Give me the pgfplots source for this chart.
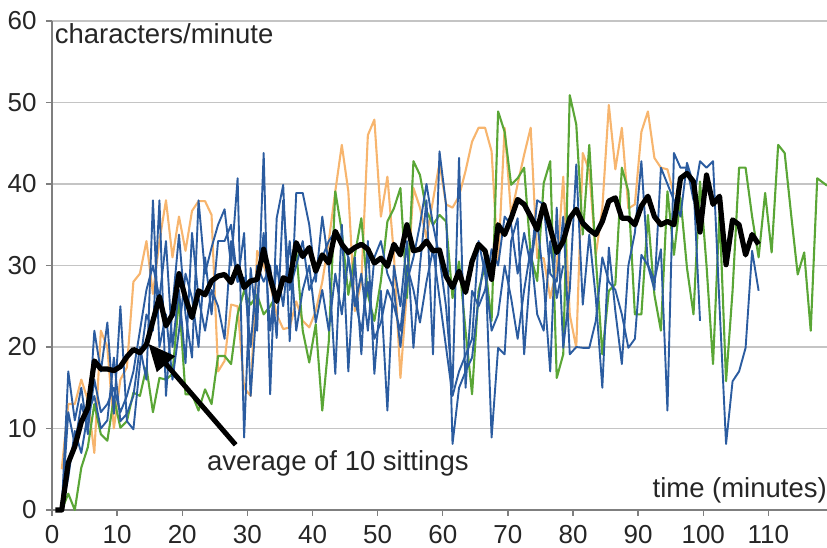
\documentclass[border=0pt]{standalone}
\usepackage{fontspec}
\setmainfont{Liberation Sans}
\usepackage{pgfplots}
\pgfplotsset{compat=1.18}
\usetikzlibrary{arrows.meta}
\definecolor{cblue}{HTML}{2B5CA0}
\definecolor{corange}{HTML}{F7B56E}
\definecolor{cgreen}{HTML}{5AA636}
\definecolor{cgrid}{HTML}{C4C4C4}
\definecolor{caxis}{HTML}{7F7F7F}
\begin{document}
\fontsize{27.5}{32}\selectfont
\begin{tikzpicture}
\path[use as bounding box] (-52pt,-38pt) rectangle (775pt,510pt);
\begin{axis}[
  scale only axis, width=775pt, height=489pt,
  at={(0,0)}, anchor=south west,
  xmin=0, xmax=119, ymin=0, ymax=60,
  axis lines=left, axis line style={caxis, line width=1.5pt, -},
  xtick={0,10,...,110}, ytick={0,10,...,60},
  tick align=outside, major tick length=6pt,
  tick style={caxis, line width=1.4pt},
  ymajorgrids, grid style={cgrid, line width=1.6pt},
  /pgf/number format/assume math mode=true,
  ticklabel style={font=\fontsize{26}{31}\selectfont, text=black!85},
  clip=false,
  every axis plot/.append style={line join=round},
]
% orange sitting
\addplot[corange, line width=2.1pt] coordinates {
(1.5,5)(2.5,13)(3.5,13)(4.5,16)(5.5,13.5)(6.5,7)(7.5,22)(8.5,20)(9.5,10)(10.5,16)
(11.5,17.5)(12.5,28)(13.5,29)(14.5,33)(15.5,26.5)(16.5,33)(17.5,38)(18.5,31)(19.5,36)(20.5,31.8)
(21.5,36.7)(22.5,37.9)(23.5,37.9)(24.5,36.2)(25.5,17)(26.5,18.3)(27.5,25.2)(28.5,25)(29.5,15)(30.5,14)
(31.5,31.8)(32.5,30)(33.5,27.7)(34.5,24)(35.5,22.2)(36.5,22.4)(37.5,25.6)(38.5,23.2)(39.5,22.4)(40.5,24.4)
(41.5,28)(42.5,33)(43.5,39.1)(44.5,44.8)(45.5,39.1)(46.5,24.4)(47.5,28)(48.5,46)(49.5,47.9)(50.5,36)
(51.5,40.9)(52.5,31.3)(53.5,16.2)(54.5,26.9)(55.5,39.5)(56.5,37.1)(57.5,33.4)(58.5,38)(59.5,42.6)(60.5,37.5)
(61.5,37.1)(62.5,38.5)(63.5,41.6)(64.5,45.2)(65.5,46.9)(66.5,46.9)(67.5,44)(68.5,30.1)(69.5,46.9)(70.5,36.2)
(71.5,40)(72.5,43.6)(73.5,46.9)(74.5,30.9)(75.5,30.9)(76.5,26)(77.5,29.7)(78.5,40.9)(79.5,24)(80.5,19.9)
(81.5,43.8)(82.5,41.6)(83.5,31.3)(84.5,37)(85.5,49.7)(86.5,41.8)(87.5,46.9)(88.5,37)(89.5,37.5)(90.5,46.4)
(91.5,48.9)(92.5,43.2)(93.5,42)(94.5,41.8)(95.5,38.7)
};
% green sitting
\addplot[cgreen, line width=2.1pt] coordinates {
(1.5,0)(2.5,2)(3.5,0)(4.5,5.2)(5.5,7.7)(6.5,13)(7.5,9.3)(8.5,8.5)(9.5,13.8)(10.5,10.1)
(11.5,10.9)(12.5,14.4)(13.5,14)(14.5,17.5)(15.5,12)(16.5,16.2)(17.5,16)(18.5,16.7)(19.5,26)(20.5,14.2)
(21.5,14.2)(22.5,12.2)(23.5,14.8)(24.5,13)(25.5,18.9)(26.5,18.9)(27.5,17.9)(28.5,24)(29.5,26.9)(30.5,25.2)
(31.5,26.4)(32.5,24)(33.5,25)(34.5,26.4)(35.5,28.1)(36.5,28.5)(37.5,32)(38.5,22)(39.5,18.1)(40.5,22.8)
(41.5,12.2)(42.5,20.7)(43.5,39.1)(44.5,34.2)(45.5,26.4)(46.5,31.3)(47.5,35.8)(48.5,26.4)(49.5,23.2)(50.5,28.1)
(51.5,35.4)(52.5,37)(53.5,39.5)(54.5,26)(55.5,42.8)(56.5,41.1)(57.5,36.7)(58.5,35)(59.5,36.2)(60.5,35.4)
(61.5,26)(62.5,30.5)(63.5,22)(64.5,14.2)(65.5,26.9)(66.5,30)(67.5,23.2)(68.5,48.9)(69.5,46.4)(70.5,39.9)
(71.5,40.7)(72.5,42)(73.5,31.3)(74.5,28.1)(75.5,40.1)(76.5,42.8)(77.5,16.2)(78.5,19.1)(79.5,50.9)(80.5,47.3)
(81.5,33.8)(82.5,44.8)(83.5,30.9)(84.5,19.1)(85.5,26.9)(86.5,27.7)(87.5,42)(88.5,39.1)(89.5,24)(90.5,24)
(91.5,36.2)(92.5,26.4)(93.5,22)(94.5,39.1)(95.5,31.3)(96.5,38.3)(97.5,29.7)(98.5,24)(99.5,40.3)(100.5,30)
(101.5,17.9)(102.5,36.7)(103.5,15.8)(104.5,26.9)(105.5,42)(106.5,42)(107.5,36)(108.5,31)(109.5,38.9)(110.5,31.6)
(111.5,44.8)(112.5,43.8)(113.5,36.2)(114.5,28.9)(115.5,31.6)(116.5,22)(117.5,40.7)(118.5,40.1)(119,39.8)
};
% blue sitting C
\addplot[cblue, line width=1.9pt] coordinates {
(1.5,0)(2.5,12)(3.5,8)(4.5,13)(5.5,10)(6.5,16)(7.5,12)(8.5,13)(9.5,15)(10.5,12)
(11.5,14)(12.5,17)(13.5,22)(14.5,27)(15.5,30)(16.5,26)(17.5,33)(18.5,20)(19.5,27)(20.5,18)
(21.5,34)(22.5,26)(23.5,22)(24.5,27)(25.5,25)(26.5,21)(27.5,33)(28.5,28)(29.5,34)(30.5,14)
(31.5,26)(32.5,34)(33.5,22)(34.5,30)(35.5,25)(36.5,33)(37.5,22)(38.5,27)(39.5,30)(40.5,23)
(41.5,27)(42.5,22)(43.5,29)(44.5,24)(45.5,31)(46.5,26)(47.5,22)(48.5,28)(49.5,21)(50.5,23)
(51.5,27)(52.5,25)(53.5,22)(54.5,30)(55.5,27)(56.5,23)(57.5,28)(58.5,32)(59.5,26)(60.5,20)
(61.5,14)(62.5,17)(63.5,19)(64.5,21)(65.5,33)(66.5,29)(67.5,22)(68.5,24)(69.5,30)(70.5,26)
(71.5,21)(72.5,27)(73.5,32)(74.5,24)(75.5,22)(76.5,33)(77.5,26)(78.5,30)
};
% blue sitting B
\addplot[cblue, line width=1.9pt] coordinates {
(1.5,0)(2.5,4)(3.5,9.7)(4.5,7)(5.5,11.8)(6.5,14)(7.5,10)(8.5,11)(9.5,18.7)(10.5,10.9)
(11.5,11.8)(12.5,14)(13.5,20)(14.5,16)(15.5,38)(16.5,20)(17.5,24)(18.5,16)(19.5,22)(20.5,29)
(21.5,26)(22.5,20)(23.5,31)(24.5,24)(25.5,33)(26.5,33)(27.5,35)(28.5,28)(29.5,28.5)(30.5,20)
(31.5,30)(32.5,28)(33.5,30)(34.5,21.1)(35.5,38)(36.5,27)(37.5,30)(38.5,33)(39.5,27)(40.5,29)
(41.5,31)(42.5,33)(43.5,34.2)(44.5,33)(45.5,31)(46.5,25)(47.5,29)(48.5,22)(49.5,31)(50.5,33)
(51.5,29)(52.5,27)(53.5,20)(54.5,28)(55.5,31)(56.5,35)(57.5,40)(58.5,35)(59.5,31)(60.5,25)
(61.5,15)(62.5,43.2)(63.5,15)(64.5,26.9)(65.5,25)(66.5,27)(67.5,32)(68.5,30)(69.5,36)(70.5,35)
(71.5,29)(72.5,34)(73.5,30)(74.5,38)(75.5,37.5)(76.5,29)(77.5,28)(78.5,36)(79.5,19.1)(80.5,20)
(81.5,19.9)(82.5,19.9)(83.5,23.2)(84.5,31)(85.5,28)(86.5,27)(87.5,24)(88.5,19.9)(89.5,21)(90.5,31.3)
(91.5,30)(92.5,27)(93.5,42)(94.5,40)(95.5,38)(96.5,36)(97.5,42.6)(98.5,40)(99.5,23.2)
};
% blue sitting A
\addplot[cblue, line width=1.9pt] coordinates {
(1.5,0)(2.5,17)(3.5,11)(4.5,15)(5.5,9.3)(6.5,22)(7.5,17)(8.5,23)(9.5,11.8)(10.5,25)
(11.5,10.9)(12.5,9.9)(13.5,17.9)(14.5,24)(15.5,22)(16.5,38)(17.5,14)(18.5,25)(19.5,33.8)(20.5,24)
(21.5,18.7)(22.5,38)(23.5,29)(24.5,32.2)(25.5,35)(26.5,36.9)(27.5,30)(28.5,40.7)(29.5,8.9)(30.5,29.7)
(31.5,22)(32.5,43.8)(33.5,14.2)(34.5,35.8)(35.5,39.9)(36.5,20.7)(37.5,38.9)(38.5,38.9)(39.5,35)(40.5,28)
(41.5,36)(42.5,30)(43.5,16.7)(44.5,35)(45.5,17)(46.5,31)(47.5,19.1)(48.5,33)(49.5,16.7)(50.5,26.9)
(51.5,12.2)(52.5,30)(53.5,25)(54.5,33)(55.5,19.9)(56.5,30)(57.5,38)(58.5,19.1)(59.5,44)(60.5,37.5)
(61.5,8.1)(62.5,15)(63.5,17)(64.5,18.7)(65.5,26)(66.5,31.3)(67.5,8.9)(68.5,19.9)(69.5,19.1)(70.5,33)
(71.5,35.8)(72.5,19.1)(73.5,30)(74.5,35.4)(75.5,28)(76.5,17)(77.5,37.1)(78.5,19.9)(79.5,27)(80.5,42.4)
(81.5,25.2)(82.5,33.8)(83.5,26)(84.5,15)(85.5,32.2)(86.5,24.4)(87.5,17.9)(88.5,30)(89.5,34)(90.5,42.8)
(91.5,30.1)(92.5,28.1)(93.5,32)(94.5,12.2)(95.5,43.8)(96.5,42)(97.5,42)(98.5,38)(99.5,42.8)(100.5,42)
(101.5,42.8)(102.5,25)(103.5,8.1)(104.5,15.8)(105.5,17)(106.5,19.9)(107.5,31.8)(108.5,26.9)
};
% average of 10 sittings
\addplot[black, line width=5.2pt] coordinates {
(0.5,0)(1.5,0)(2.5,5.8)(3.5,7.8)(4.5,10.8)(5.5,12.5)(6.5,18.3)(7.5,17.3)(8.5,17.3)(9.5,17.1)
(10.5,17.6)(11.5,18.8)(12.5,19.7)(13.5,19.3)(14.5,20.3)(15.5,23.2)(16.5,26.2)(17.5,22.6)(18.5,24)(19.5,29)
(20.5,26)(21.5,23.6)(22.5,26.9)(23.5,26.4)(24.5,28.1)(25.5,28.7)(26.5,28.9)(27.5,27.9)(28.5,29.9)(29.5,27.3)
(30.5,28.1)(31.5,28.3)(32.5,32)(33.5,28.5)(34.5,25.6)(35.5,28.5)(36.5,28.1)(37.5,32.8)(38.5,31.1)(39.5,32.2)
(40.5,29.3)(41.5,31.3)(42.5,30.3)(43.5,34.2)(44.5,32.6)(45.5,31.6)(46.5,32.2)(47.5,32.6)(48.5,32)(49.5,30.3)
(50.5,30.9)(51.5,29.9)(52.5,32.6)(53.5,31.3)(54.5,35)(55.5,31.8)(56.5,32)(57.5,33)(58.5,31.8)(59.5,31.9)
(60.5,28.7)(61.5,27.3)(62.5,29.3)(63.5,26.7)(64.5,30.5)(65.5,32.6)(66.5,31.8)(67.5,28.3)(68.5,35)(69.5,33.8)
(70.5,35.8)(71.5,38.1)(72.5,37.5)(73.5,36)(74.5,34.4)(75.5,37.5)(76.5,34.6)(77.5,31.6)(78.5,33)(79.5,35.8)
(80.5,36.9)(81.5,35.2)(82.5,34.4)(83.5,33.8)(84.5,35.4)(85.5,37.9)(86.5,38.3)(87.5,35.8)(88.5,35.8)(89.5,35)
(90.5,37.3)(91.5,38.5)(92.5,36)(93.5,35)(94.5,35.4)(95.5,35)(96.5,40.7)(97.5,41.3)(98.5,40.3)(99.5,34.1)
(100.5,41.1)(101.5,37.5)(102.5,38.5)(103.5,30.1)(104.5,35.6)(105.5,35)(106.5,31.3)(107.5,33.8)(108.5,32.6)
};
\node[anchor=base west, inner sep=0pt, text=black!85] at (axis cs:0.4,57.3) {characters/minute};
\node[anchor=base east, inner sep=0pt, text=black!85] at (axis cs:119,1.5) {time (minutes)};
\node[anchor=base west, inner sep=0pt, text=black!85] at (axis cs:23.8,4.9) {average of 10 sittings};
\draw[black, line width=5pt, -{Triangle[length=27pt,width=23pt]}] (axis cs:28.2,8.0) -- (axis cs:14.8,20.4);
\end{axis}
\end{tikzpicture}
\end{document}
